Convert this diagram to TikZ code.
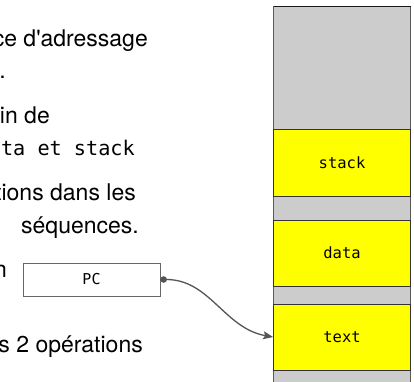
\documentclass[tikz,border=0pt]{standalone}
\usepackage{fontspec}
\setmainfont{TeX Gyre Heros}
\newfontfamily\codefont{DejaVu Sans Mono}
\usetikzlibrary{arrows.meta}
\definecolor{memgray}{HTML}{CCCCCC}
\definecolor{segyellow}{HTML}{FFFF00}
\definecolor{wire}{HTML}{555555}

\begin{document}
\begin{tikzpicture}[x=1pt,y=1pt,
  prose/.style={anchor=base east, inner sep=0pt, font=\fontsize{23}{27}\selectfont},
  prosecode/.style={anchor=base east, inner sep=0pt, font=\codefont\fontsize{20.2}{24}\selectfont},
  segment/.style={draw=black!80, line width=0.8pt, fill=segyellow, minimum width=137pt,
    inner sep=0pt, font=\codefont\fontsize{15.5}{18}\selectfont},
  register/.style={draw=black!60, line width=0.8pt, fill=white, minimum width=137pt,
    minimum height=33pt, inner sep=0pt, font=\codefont\fontsize{15}{17}\selectfont},
  link/.style={line width=1.3pt, draw=wire,
    {Circle[length=6.5pt,fill=wire]}-{Stealth[length=10pt,width=8pt,inset=2pt,fill=wire]}},
]
\useasboundingbox (0,0) rectangle (414,381);
\clip (0,0) rectangle (414,381);

% explanatory text (left margin is cut by the frame)
\node[prose] (l1) at (148,334) {ce d\textquotesingle adressage};
\node[prose] (l2) at (6,303) {.};
\node[prose] (l3) at (50,258) {in de};
\node[prosecode] (l4) at (135,226) {ta et stack};
\node[prose] (l5) at (136,181) {tions dans les};
\node[prose] (l6) at (139,148) {séquences.};
\node[prose] (l7) at (7,104) {n};
\node[prose] (l8) at (143,29) {s 2 opérations};

% address space column
\filldraw[fill=memgray, draw=black!65, line width=0.8pt]
  (273.5,-5) -- (273.5,375) -- (410.5,375) -- (410.5,-5);
\draw[black!90, line width=0.8pt] (273.5,375) -- (410.5,375);

\node[segment, minimum height=67pt] (stack) at (342,218.5) {stack};
\node[segment, minimum height=66pt] (data) at (342,128) {data};
\node[segment, minimum height=66pt] (text) at (342,44) {text};

% program counter
\node[register] (pc) at (91.5,101.5) {PC};
\draw[link] (pc.east) to[out=0,in=170] (text.west);
\end{tikzpicture}
\end{document}
